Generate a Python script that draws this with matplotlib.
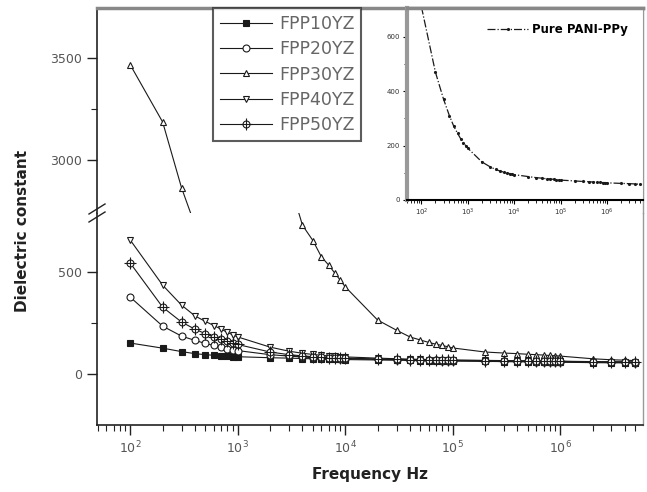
import matplotlib
matplotlib.use("Agg")
import matplotlib.pyplot as plt
from matplotlib.ticker import LogLocator, FixedLocator, NullFormatter
from matplotlib.legend_handler import HandlerTuple
from matplotlib.lines import Line2D

# frequencies (Hz): 1..9 x 10^2 .. 10^5, then 1..5 x 10^6
freq = [100, 200, 300, 400, 500, 600, 700, 800, 900,
        1e3, 2e3, 3e3, 4e3, 5e3, 6e3, 7e3, 8e3, 9e3,
        1e4, 2e4, 3e4, 4e4, 5e4, 6e4, 7e4, 8e4, 9e4,
        1e5, 2e5, 3e5, 4e5, 5e5, 6e5, 7e5, 8e5, 9e5,
        1e6, 2e6, 3e6, 4e6, 5e6]

fpp10 = [152, 127, 110, 100, 95, 92, 90, 88, 86,
         85, 80, 78, 76, 75, 74, 73, 72, 72,
         71, 69, 68, 67, 66, 66, 65, 65, 64,
         64, 62, 61, 60, 60, 59, 59, 58, 58,
         58, 56, 55, 55, 54]
fpp20 = [377, 235, 186, 165, 150, 140, 132, 125, 120,
         115, 95, 88, 84, 81, 79, 78, 77, 76,
         75, 72, 70, 69, 68, 67, 67, 66, 66,
         65, 64, 63, 62, 62, 61, 61, 60, 60,
         60, 58, 57, 57, 56]
fpp30 = [3466, 3186, 2863, 2680, 2450, 2250, 2080, 1930, 1800,
         1700, 1200, 950, 730, 655, 575, 535, 495, 460,
         428, 265, 215, 182, 167, 155, 146, 140, 134,
         128, 108, 103, 100, 97, 95, 93, 91, 90,
         88, 75, 70, 68, 66]
fpp40 = [657, 436, 338, 285, 258, 238, 220, 205, 192,
         182, 132, 112, 102, 96, 92, 89, 87, 85,
         84, 78, 75, 73, 72, 71, 70, 70, 69,
         69, 67, 66, 65, 65, 64, 64, 63, 63,
         63, 61, 60, 60, 59]
fpp50 = [544, 328, 255, 220, 198, 182, 170, 160, 152,
         145, 108, 95, 89, 85, 83, 81, 80, 79,
         78, 74, 72, 71, 70, 69, 69, 68, 68,
         67, 66, 65, 64, 64, 63, 63, 62, 62,
         62, 60, 59, 59, 58]
pure = [710, 470, 370, 310, 270, 245, 225, 210, 200,
        190, 140, 122, 112, 106, 102, 99, 97, 95,
        93, 86, 82, 80, 78, 77, 76, 75, 74,
        73, 70, 68, 67, 66, 65, 65, 64, 64,
        63, 61, 60, 59, 58]

W, H = 647, 492
fig = plt.figure(figsize=(W / 100, H / 100), dpi=100)

L, R = 97 / W, 643 / W
ax_lo = fig.add_axes([L, 1 - 425 / H, R - L, (425 - 213) / H])
ax_hi = fig.add_axes([L, 1 - 213 / H, R - L, (213 - 8) / H])
ax_in = fig.add_axes([407 / W, 1 - 200 / H, R - 407 / W, (200 - 8) / H])

lc = "#1a1a1a"
common = dict(color=lc, lw=0.8, ms=5, mew=0.8)

handles = []
for ax in (ax_lo, ax_hi):
    h1, = ax.plot(freq, fpp10, marker="s", mfc=lc, **common)
    h2, = ax.plot(freq, fpp20, marker="o", mfc="white", **common)
    h3, = ax.plot(freq, fpp30, marker="^", mfc="white", **common)
    h4, = ax.plot(freq, fpp40, marker="v", mfc="white", **common)
    h5, = ax.plot(freq, fpp50, marker="o", mfc="white", **common)
    h5b, = ax.plot(freq, fpp50, marker="+", ls="none", color=lc, ms=8, mew=0.8)
    handles = [h1, h2, h3, h4, (h5, h5b)]

xlim = (49, 5.9e6)
for ax in (ax_lo, ax_hi, ax_in):
    ax.set_xscale("log")
    ax.set_xlim(*xlim)

ax_lo.set_ylim(-250, 790)
ax_hi.set_ylim(2740, 3745)

ax_lo.yaxis.set_major_locator(FixedLocator([0, 500]))
ax_lo.yaxis.set_minor_locator(FixedLocator([250]))
ax_hi.yaxis.set_major_locator(FixedLocator([3000, 3500]))
ax_hi.yaxis.set_minor_locator(FixedLocator([3250]))

ax_lo.xaxis.set_major_locator(LogLocator(base=10))
ax_lo.xaxis.set_minor_locator(LogLocator(base=10, subs=range(2, 10)))
ax_lo.xaxis.set_minor_formatter(NullFormatter())

for ax in (ax_lo, ax_hi):
    ax.tick_params(which="major", direction="out", length=7, width=1,
                   labelsize=9, labelcolor="#555", color="#222")
    ax.tick_params(which="minor", direction="out", length=4, width=0.8, color="#222")
    ax.spines["left"].set_color("#222")
    ax.spines["left"].set_linewidth(1.2)
    ax.spines["right"].set_color("#999")
    ax.spines["right"].set_linewidth(1)

ax_lo.spines["top"].set_visible(False)
ax_lo.spines["bottom"].set_linewidth(1.2)
ax_lo.spines["bottom"].set_color("#222")
ax_hi.spines["bottom"].set_visible(False)
ax_hi.spines["top"].set_color("#888")
ax_hi.spines["top"].set_linewidth(2.5)
ax_hi.tick_params(axis="x", which="both", bottom=False, labelbottom=False)

# break marks on the left spine
bx, by = 97, 213
for dy in (-4, 4):
    fig.add_artist(Line2D([(bx - 8) / W, (bx + 8) / W],
                          [1 - (by + dy + 5) / H, 1 - (by + dy - 5) / H],
                          color="#222", lw=1))

# inset
ax_in.plot(freq, pure, ls="-.", marker=".", ms=2.5, color=lc, lw=0.9,
           label="Pure PANI-PPy")
ax_in.set_ylim(0, 705)
ax_in.yaxis.set_major_locator(FixedLocator([0, 200, 400, 600]))
ax_in.yaxis.set_minor_locator(FixedLocator([100, 300, 500]))
ax_in.xaxis.set_major_locator(LogLocator(base=10))
ax_in.xaxis.set_minor_locator(LogLocator(base=10, subs=range(2, 10)))
ax_in.xaxis.set_minor_formatter(NullFormatter())
ax_in.tick_params(which="major", direction="out", length=3, width=0.8,
                  labelsize=5, labelcolor="#333", pad=2)
ax_in.tick_params(which="minor", direction="out", length=2, width=0.6)
ax_in.spines["left"].set_color("#999")
ax_in.spines["left"].set_linewidth(3)
ax_in.spines["top"].set_color("#888")
ax_in.spines["top"].set_linewidth(2.5)
ax_in.spines["right"].set_color("#999")
ax_in.spines["bottom"].set_linewidth(1.5)
ax_in.legend(loc="upper right", frameon=False, handlelength=3.5, handletextpad=0.3,
             prop=dict(size=8.5, weight="bold"), borderaxespad=0.9)

labels = ["FPP10YZ", "FPP20YZ", "FPP30YZ", "FPP40YZ", "FPP50YZ"]
leg = fig.legend(handles, labels, loc="upper left",
                 bbox_to_anchor=(213 / W, 1 - 8 / H), bbox_transform=fig.transFigure,
                 borderaxespad=0, frameon=True, fancybox=False, edgecolor="#333",
                 handlelength=3.0, handletextpad=0.4, labelspacing=0.42,
                 borderpad=0.4, fontsize=12.5,
                 handler_map={tuple: HandlerTuple(ndivide=1)})
leg.get_frame().set_linewidth(1.5)
for t in leg.get_texts():
    t.set_color("#666")

fig.text(23 / W, 1 - 231 / H, "Dielectric constant", rotation=90,
         ha="center", va="center", fontsize=11, fontweight="bold", color="#222")
fig.text(370 / W, 1 - 475 / H, "Frequency Hz", ha="center", va="center",
         fontsize=11, fontweight="bold", color="#222")

fig.savefig("out.png", dpi=100)
